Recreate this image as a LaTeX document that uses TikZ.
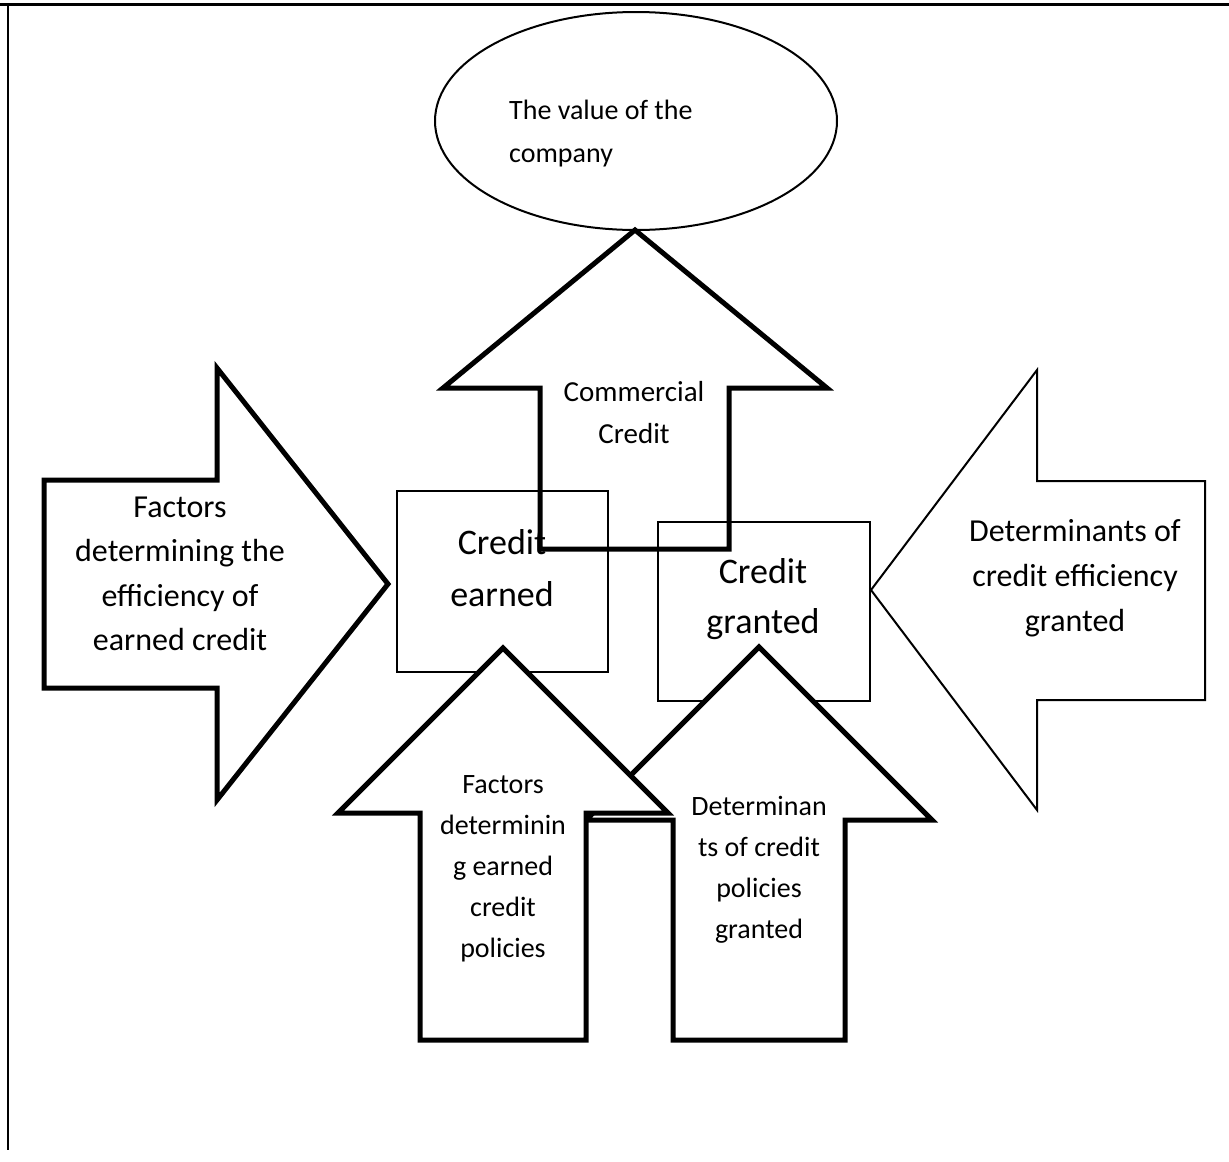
\documentclass[tikz,border=0pt]{standalone}
\usepackage{fontspec}
\setmainfont{Carlito}
\usetikzlibrary{shapes.geometric}
\tikzset{
  heavy/.style={line width=5pt},
  light/.style={line width=2pt},
  boxnode/.style={draw, light, minimum width=211pt, minimum height=181pt, inner sep=0pt},
  txt/.style={align=center, inner sep=0pt}
}
\begin{document}
\begin{tikzpicture}[x=1pt,y=-1pt]
  \useasboundingbox (0,0) rectangle (1229,1162);
  \draw[line width=3pt] (0,4) -- (1229,4);
  \draw[line width=2pt] (8,4) -- (8,1150);

  \node[draw, light, ellipse, minimum width=402pt, minimum height=218pt] (value) at (636,121) {};
  \node[anchor=west, align=left, inner sep=0pt, font=\fontsize{28}{43}\selectfont] (valuetxt) at (509,134) {The value of the\\company};

  \draw[heavy, fill=white] (44,480) -- (217,480) -- (217,368) -- (388,584) -- (217,800) -- (217,688) -- (44,688) -- cycle;
  \node[txt, font=\fontsize{32}{44.5}\selectfont] (efficiency) at (180,574) {Factors\\determining the\\efficiency of\\earned credit};

  \draw[light, fill=white] (871,590) -- (1037,370) -- (1037,481) -- (1205,481) -- (1205,700) -- (1037,700) -- (1037,810) -- cycle;
  \node[txt, font=\fontsize{32}{45}\selectfont] (determinants) at (1075,578) {Determinants of\\credit efficiency\\granted};

  \node[boxnode] (earnedbox) at (502.5,581.5) {};
  \node[txt, font=\fontsize{36}{52}\selectfont] (earned) at (502,568) {Credit\\earned};
  \node[boxnode, minimum width=212pt, minimum height=179pt] (grantedbox) at (764,611.5) {};
  \node[txt, font=\fontsize{36}{50}\selectfont] (granted) at (763,599) {Credit\\granted};

  \draw[heavy] (540,549) -- (540,388) -- (443,388) -- (635,230) -- (827,388) -- (729,388) -- (729,549) -- cycle;
  \node[txt, font=\fontsize{29}{42}\selectfont] (commercial) at (634,413) {Commercial\\Credit};

  \draw[heavy, fill=white] (673,1040) -- (673,820) -- (586,820) -- (759,647) -- (932,820) -- (845,820) -- (845,1040) -- cycle;
  \node[txt, font=\fontsize{28}{41}\selectfont] (grantedpol) at (759,870) {Determinan\\ts of credit\\policies\\granted};

  \draw[heavy, fill=white] (420,1040) -- (420,813) -- (338,813) -- (503,648) -- (668,813) -- (586,813) -- (586,1040) -- cycle;
  \node[txt, font=\fontsize{28}{41}\selectfont] (earnedpol) at (503,869) {Factors\\determinin\\g earned\\credit\\policies};
\end{tikzpicture}
\end{document}
